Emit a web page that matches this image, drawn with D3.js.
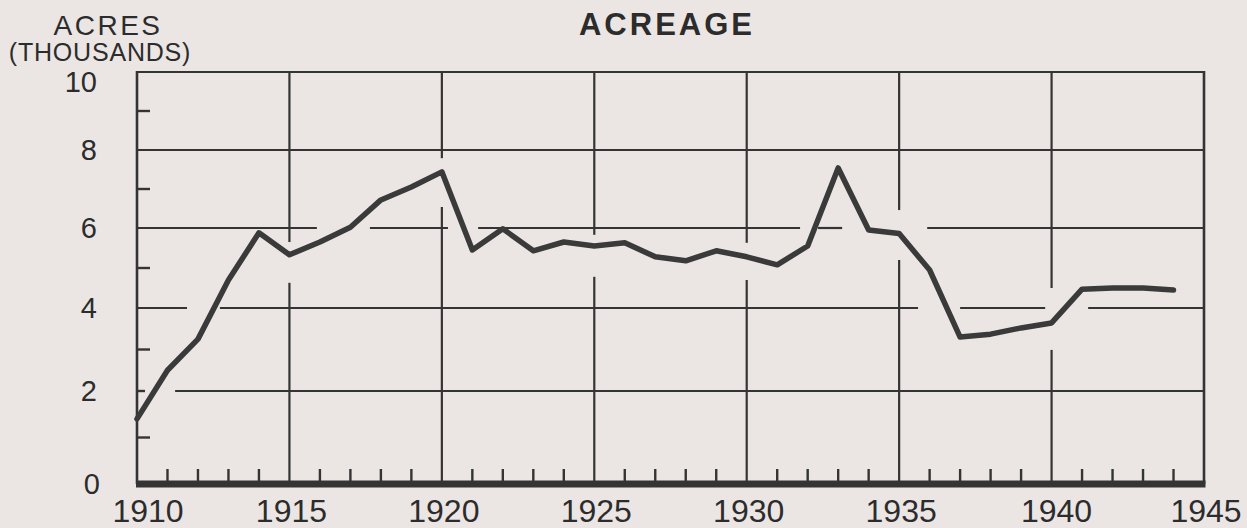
<!DOCTYPE html>
<html>
<head>
<meta charset="utf-8">
<script src="https://cdn.jsdelivr.net/npm/d3@7"></script>
<style>
  html, body { margin: 0; padding: 0; background: #ebe6e4; }
  svg { display: block; }
</style>
</head>
<body>
<svg id="chart" width="1247" height="528"></svg>
<script>
// ---- data ----
const years = [1910,1911,1912,1913,1914,1915,1916,1917,1918,1919,1920,1921,1922,1923,1924,1925,1926,1927,1928,1929,1930,1931,1932,1933,1934,1935,1936,1937,1938,1939,1940,1941,1942,1943,1944];
const acres = [1.4,2.5,3.25,4.7,5.88,5.33,5.65,6.02,6.72,7.05,7.44,5.45,5.98,5.43,5.65,5.55,5.63,5.28,5.18,5.43,5.28,5.08,5.55,7.54,5.95,5.86,4.95,3.3,3.37,3.52,3.64,4.47,4.5,4.5,4.45];
const yTickValues = [0,2,4,6,8,10];
const yTickLabels = ["0","2","4","6","8","10"];
const xTickValues = [1910,1915,1920,1925,1930,1935,1940,1945];
const xTickLabels = ["1910","1915","1920","1925","1930","1935","1940","1945"];
const yMinorTicks = [1,2,3,5,7,9];
// horizontal grid lines (value) and their drawn stretches (years)
const hLineValues = [2,4,6,8,10];
const hLineSegments = [
  [[1911.25,1945]],
  [[1910,1911.64],[1912.72,1935.62],[1937.0,1939.79],[1941.2,1945]],
  [[1910,1915.9],[1917.64,1920.2],[1921.19,1931.75],[1932.34,1933.13],[1935.92,1945]],
  [[1910,1945]],
  [[1910,1945]]
];
// vertical grid lines (year) and their drawn stretches (values)
const vLineYears = [1915,1920,1925,1930,1935,1940];
const vLineSegments = [
  [[0,4.63],[5.65,10]],
  [[0,6.54],[7.79,10]],
  [[0,4.78],[5.83,10]],
  [[0,4.7],[5.63,10]],
  [[0,5.2],[6.46,10]],
  [[0,2.99],[4.5,10]]
];
const titleText = "ACREAGE";
const yTitle1 = "ACRES";
const yTitle2 = "(THOUSANDS)";

// ---- drawing ----
const svg = d3.select("#chart");
const ink = "#343434";
const font = "'Liberation Sans', Arial, sans-serif";

const x = d3.scaleLinear().domain([1910,1945]).range([137,1204]);
const y = d3.scaleLinear().domain(yTickValues).range([484,391,308,228,150,72]);

const g = svg.append("g");

// horizontal grid
hLineValues.forEach((v,i) => {
  hLineSegments[i].forEach(s => {
    g.append("line")
      .attr("x1", x(s[0])).attr("x2", x(s[1]))
      .attr("y1", y(v)).attr("y2", y(v))
      .attr("stroke", ink).attr("stroke-width", 2.2);
  });
});
// vertical grid
vLineYears.forEach((yr,i) => {
  vLineSegments[i].forEach(s => {
    g.append("line")
      .attr("x1", x(yr)).attr("x2", x(yr))
      .attr("y1", y(s[0])).attr("y2", y(s[1]))
      .attr("stroke", ink).attr("stroke-width", 2.2);
  });
});
// frame: left and right
[1910,1945].forEach(yr => {
  g.append("line")
    .attr("x1", x(yr)).attr("x2", x(yr))
    .attr("y1", y(0)).attr("y2", y(10) - 1)
    .attr("stroke", ink).attr("stroke-width", 2.6);
});

// y minor ticks
g.selectAll(".ymt").data(yMinorTicks).join("line")
  .attr("x1", x(1910)).attr("x2", d => x(1910) + (d === 2 ? 8 : 13))
  .attr("y1", d => y(d)).attr("y2", d => y(d))
  .attr("stroke", ink).attr("stroke-width", 2.4);

// x minor ticks (every year)
const minorYears = d3.range(1911,1945).filter(d => d % 5 !== 0);
g.selectAll(".xmt").data(minorYears).join("line")
  .attr("x1", d => x(d)).attr("x2", d => x(d))
  .attr("y1", y(0)).attr("y2", y(0) - 15)
  .attr("stroke", ink).attr("stroke-width", 2.4);

// bottom axis (thick)
g.append("line")
  .attr("x1", x(1910) - 1).attr("x2", x(1945) + 1.5)
  .attr("y1", y(0)).attr("y2", y(0))
  .attr("stroke", ink).attr("stroke-width", 7);

// data line
const line = d3.line().x((d,i) => x(years[i])).y(d => y(d));
g.append("path")
  .datum(acres)
  .attr("d", line)
  .attr("fill", "none")
  .attr("stroke", "#3a3a3a")
  .attr("stroke-width", 5.5)
  .attr("stroke-linejoin", "round")
  .attr("stroke-linecap", "round");

// y tick labels
g.selectAll(".ylab").data(yTickValues).join("text")
  .attr("x", d => d === 0 ? 100 : 97)
  .attr("y", d => y(d) + (d === 10 ? 10 : 0))
  .attr("text-anchor", "end")
  .attr("dominant-baseline", "central")
  .attr("font-family", font)
  .attr("font-size", 29)
  .attr("fill", "#2c2c2c")
  .text((d,i) => yTickLabels[i]);

// x tick labels
g.selectAll(".xlab").data(xTickValues).join("text")
  .attr("x", d => x(d) + (d === 1910 ? 11 : (d === 1940 ? 5 : 2)))
  .attr("y", 522)
  .attr("text-anchor", "middle")
  .attr("font-family", font)
  .attr("font-size", 32)
  .attr("fill", "#2c2c2c")
  .text((d,i) => xTickLabels[i]);

// titles
svg.append("text")
  .attr("x", 667).attr("y", 35)
  .attr("text-anchor", "middle")
  .attr("font-family", font)
  .attr("font-weight", "bold")
  .attr("font-size", 31)
  .attr("letter-spacing", 3)
  .attr("fill", "#2c2c2c")
  .text(titleText);

svg.append("text")
  .attr("x", 108).attr("y", 35)
  .attr("text-anchor", "middle")
  .attr("font-family", font)
  .attr("font-size", 28)
  .attr("letter-spacing", 2.5)
  .attr("fill", "#2c2c2c")
  .text(yTitle1);

svg.append("text")
  .attr("x", 100).attr("y", 61)
  .attr("text-anchor", "middle")
  .attr("font-family", font)
  .attr("font-size", 25)
  .attr("letter-spacing", 0.8)
  .attr("fill", "#2c2c2c")
  .text(yTitle2);
</script>
</body>
</html>
